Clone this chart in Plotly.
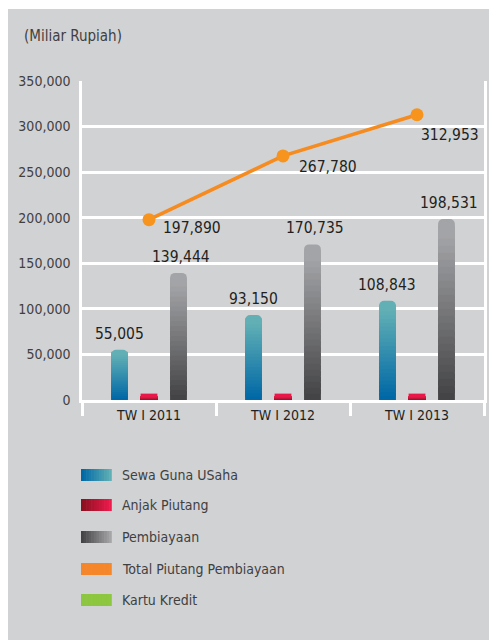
import plotly.graph_objects as go

categories = ["TW I 2011", "TW I 2012", "TW I 2013"]
sewa_guna_usaha = [55005, 93150, 108843]
anjak_piutang = [7000, 7000, 7000]
pembiayaan = [139444, 170735, 198531]
total_piutang = [197890, 267780, 312953]
y_ticks = [0, 50000, 100000, 150000, 200000, 250000, 300000, 350000]
y_tick_labels = ["0", "50,000", "100,000", "150,000", "200,000", "250,000", "300,000", "350,000"]
legend_names = ["Sewa Guna USaha", "Anjak Piutang", "Pembiayaan", "Total Piutang Pembiayaan", "Kartu Kredit"]

OX, OY = 8, 9                      # page offset of the figure (white border)
W, H = 489 - OX, 640 - OY
L, R, T, B = 82 - OX, 2, 81 - OY, 240
PW, PH = W - L - R, H - T - B
FONT = "Liberation Sans Narrow, DejaVu Sans Condensed, Arial Narrow, sans-serif"
BG = "#d1d2d4"


def px_x(p):  # page pixel -> paper
    return (p - OX - L) / PW


def px_y(p):
    return (H - B - (p - OY)) / PH


def mix(c1, c2, t):
    return "rgb(%d,%d,%d)" % tuple(round(a + (b - a) * t) for a, b in zip(c1, c2))


fig = go.Figure()

series = [
    ("s", sewa_guna_usaha, (0, 104, 166), (98, 176, 181), 5),
    ("a", anjak_piutang, (140, 16, 32), (232, 24, 72), 0),
    ("p", pembiayaan, (68, 68, 70), (163, 164, 167), 5),
]
N = 24
for grp, vals, c_bot, c_top, rad in series:
    fig.add_trace(go.Bar(x=categories, y=vals, offsetgroup=grp,
                         marker=dict(color=mix(c_bot, c_top, 1), cornerradius=rad, line=dict(width=0)),
                         showlegend=False, hoverinfo="skip"))
    frac = 0.93 if rad else 0.55
    for k in range(N):
        fig.add_trace(go.Bar(
            x=categories,
            y=[v * frac / N * 1.8 for v in vals],
            base=[v * frac * k / N for v in vals],
            offsetgroup=grp,
            marker=dict(color=mix(c_bot, c_top, k / (N - 1)), line=dict(width=0)),
            showlegend=False, hoverinfo="skip"))

fig.add_trace(go.Scatter(x=categories, y=total_piutang, mode="lines+markers",
                         line=dict(color="#f68b1f", width=3.5),
                         marker=dict(color="#f7941d", size=13),
                         showlegend=False, hoverinfo="skip"))

ann = []
lab_font = dict(family=FONT, size=15.5, color="#231f20")
for c, v in zip(categories, sewa_guna_usaha):
    ann.append(dict(x=c, y=v, text=f"{v:,}", showarrow=False, xshift=-30, yshift=16, yanchor="middle", font=lab_font))
for c, v in zip(categories, pembiayaan):
    ann.append(dict(x=c, y=v, text=f"{v:,}", showarrow=False, xshift=32, yshift=16, yanchor="middle", font=lab_font))
line_offsets = [(12, -8), (14, -11), (2, -20)]
for c, v, (dx, dy) in zip(categories, total_piutang, line_offsets):
    ann.append(dict(x=c, y=v, text=f"{v:,}", showarrow=False, xanchor="left", yanchor="middle",
                    xshift=dx, yshift=dy, font=lab_font))

ann.append(dict(xref="paper", yref="paper", x=px_x(22), y=px_y(36), xanchor="left", yanchor="middle",
                text="(Miliar Rupiah)", showarrow=False, font=dict(family=FONT, size=15, color="#404041")))

shapes = []
leg_cols = [
    ((0, 104, 166), (95, 176, 181)),
    ((139, 16, 32), (238, 26, 76)),
    ((68, 68, 70), (165, 165, 167)),
    ((245, 134, 42), (245, 134, 42)),
    ((141, 198, 63), (141, 198, 63)),
]
leg_y = [475, 505, 537, 569, 600]
M = 12
for name, (ca, cb), yy in zip(legend_names, leg_cols, leg_y):
    x0, x1 = 81, 112
    for k in range(M):
        sx0 = x0 + (x1 - x0) * k / M
        sx1 = x0 + (x1 - x0) * (k + 1) / M + 0.6
        shapes.append(dict(type="rect", xref="paper", yref="paper", x0=px_x(sx0), x1=px_x(min(sx1, x1)),
                           y0=px_y(yy - 6), y1=px_y(yy + 6), fillcolor=mix(ca, cb, k / (M - 1)), line=dict(width=0)))
    ann.append(dict(xref="paper", yref="paper", x=px_x(120), y=px_y(yy), xanchor="left", yanchor="middle",
                    text=name, showarrow=False, font=dict(family=FONT, size=14, color="#404041")))

fig.update_layout(
    width=W, height=H,
    margin=dict(l=L, r=R, t=T, b=B),
    paper_bgcolor=BG, plot_bgcolor=BG,
    barmode="group", bargap=0.34, bargroupgap=0.43,
    showlegend=False,
    annotations=ann, shapes=shapes,
    xaxis=dict(type="category", tickson="boundaries", ticks="outside", ticklen=13, tickwidth=2.5, tickcolor="white",
               showgrid=False, showline=True, linecolor="white", linewidth=2.5,
               tickfont=dict(family=FONT, size=14, color="#231f20"), fixedrange=True),
    yaxis=dict(range=[0, 350000], tickvals=y_ticks, ticktext=y_tick_labels, showgrid=True, gridcolor="white", gridwidth=2.5,
               showline=True, linecolor="white", linewidth=2.5, mirror=True, zeroline=False, ticks="",
               ticklabelstandoff=6, tickfont=dict(family=FONT, size=14, color="#404041"), fixedrange=True),
)

fig.write_html("out.html", config={"displayModeBar": False},
               post_script="document.body.style.margin='%dpx 0 0 %dpx';document.body.style.overflow='hidden';"
                           "document.documentElement.style.overflow='hidden';" % (OY, OX))
